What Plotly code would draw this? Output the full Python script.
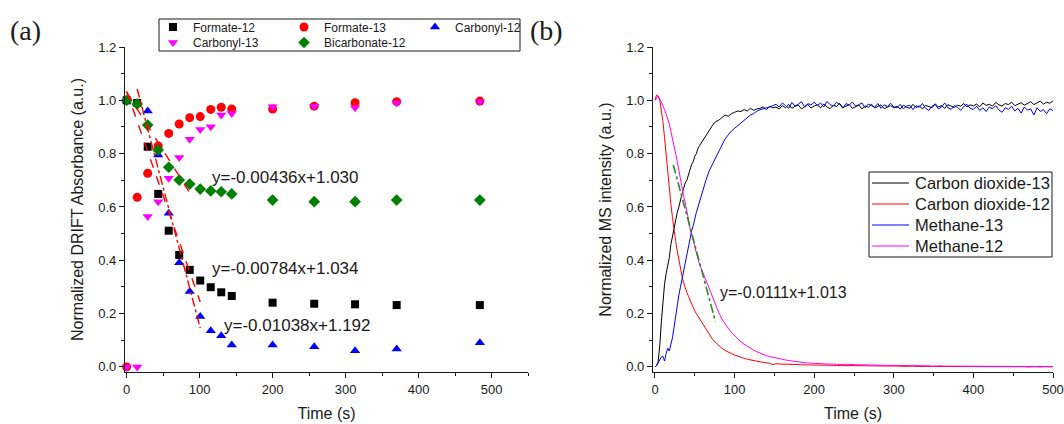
import plotly.graph_objects as go

W, H = 1064, 424


def fx(p):
    return p / W


def fy(p):
    return 1 - p / H


# ---------------- Panel (a): DRIFT data ----------------
t_drift = [0, 14.4, 28.8, 43.2, 57.6, 72, 86.4, 100.8, 115.2, 129.6, 144, 200, 257, 313, 370, 484]
formate12 = [1.0, 0.99, 0.826, 0.649, 0.511, 0.42, 0.364, 0.324, 0.299, 0.28, 0.266, 0.241, 0.237, 0.235, 0.232, 0.232]
formate13 = [0.0, 0.636, 0.726, 0.829, 0.876, 0.911, 0.935, 0.939, 0.966, 0.974, 0.967, 0.967, 0.978, 0.991, 0.995, 0.997]
carbonyl12 = [1.0, 0.99, 0.96, 0.795, 0.576, 0.391, 0.283, 0.189, 0.136, 0.117, 0.082, 0.082, 0.076, 0.061, 0.067, 0.091]
carbonyl13 = [0.0, 0.0, 0.564, 0.62, 0.708, 0.786, 0.854, 0.891, 0.901, 0.945, 0.951, 0.976, 0.978, 0.972, 0.99, 0.995]
bicarbonate12 = [1.0, 0.986, 0.907, 0.814, 0.749, 0.701, 0.686, 0.667, 0.66, 0.657, 0.649, 0.626, 0.62, 0.62, 0.626, 0.626]

# linear fits shown in panel (a): slope, intercept, x-start, x-end
fit_labels_a = ["y=-0.00436x+1.030", "y=-0.00784x+1.034", "y=-0.01038x+1.192"]
fit_slopes_a = [-0.00436, -0.00784, -0.01038]
fit_icepts_a = [1.030, 1.034, 1.192]
fit_x0_a = [0.0, 0.0, 14.4]
fit_x1_a = [86.4, 100.8, 100.8]
fit_dash_a = ["dash", "dash", "dashdot"]

# ---------------- Panel (b): MS data ----------------
t_ms = list(range(0, 61, 2)) + list(range(64, 501, 4))

co2_13 = [
    0.0, 0.005, 0.02, 0.08, 0.17, 0.25, 0.31, 0.35, 0.38, 0.41, 0.46, 0.49, 0.53, 0.55, 0.58, 0.60,
    0.63, 0.65, 0.67, 0.69, 0.70, 0.72, 0.74, 0.76, 0.77, 0.79, 0.80, 0.82, 0.83, 0.84, 0.85,
    0.87, 0.885, 0.905, 0.92, 0.925, 0.935, 0.945, 0.94, 0.95, 0.955, 0.96, 0.958, 0.965, 0.96, 0.97,
    0.962, 0.968, 0.97, 0.975, 0.965, 0.978, 0.972,
    0.975, 0.968, 0.98, 0.972, 0.985, 0.97, 0.978, 0.982, 0.968, 0.976, 0.984, 0.971, 0.979,
    0.983, 0.972, 0.986, 0.975, 0.969, 0.981, 0.977, 0.988, 0.973, 0.979, 0.984, 0.97, 0.976,
    0.982, 0.968, 0.979, 0.974, 0.985, 0.971, 0.977, 0.983, 0.969, 0.975, 0.98, 0.972,
    0.978, 0.967, 0.982, 0.974, 0.97, 0.985, 0.973, 0.979, 0.968, 0.981, 0.976, 0.972, 0.987,
    0.975, 0.98, 0.97, 0.984, 0.977, 0.973, 0.982, 0.978, 0.988, 0.975, 0.983, 0.979,
    0.986, 0.976, 0.99, 0.981, 0.985, 0.978, 0.992, 0.983, 0.979, 0.988, 0.984, 0.993, 0.98,
    0.987, 0.991, 0.982, 0.989, 0.995, 0.984, 0.99, 0.997, 0.986, 0.993, 0.989, 0.998,
]

co2_12 = [
    1.0, 1.02, 1.015, 1.0, 0.96, 0.92, 0.86, 0.79, 0.72, 0.66, 0.61, 0.56, 0.51, 0.47, 0.435, 0.40,
    0.37, 0.34, 0.315, 0.295, 0.28, 0.265, 0.25, 0.235, 0.22, 0.21, 0.20, 0.19, 0.18, 0.17, 0.16,
    0.14, 0.122, 0.105, 0.092, 0.08, 0.07, 0.062, 0.055, 0.05, 0.045, 0.04, 0.036, 0.032, 0.029, 0.026,
    0.023, 0.021, 0.019, 0.017, 0.016, 0.014, 0.008,
    0.012, 0.011, 0.011, 0.010, 0.010, 0.009, 0.009, 0.009, 0.008, 0.008, 0.008, 0.007, 0.007,
    0.007, 0.007, 0.006, 0.006, 0.006, 0.006, 0.005, 0.006, 0.005, 0.005, 0.005, 0.005, 0.004,
    0.005, 0.004, 0.004, 0.004, 0.004, 0.004, 0.003, 0.004, 0.003, 0.003, 0.003, 0.003,
    0.003, 0.003, 0.002, 0.003, 0.002, 0.003, 0.002, 0.002, 0.003, 0.002, 0.002, 0.002, 0.001,
    0.002, 0.002, 0.002, 0.001, 0.002, 0.002, 0.001, 0.002, 0.001, 0.002, 0.001, 0.001,
    0.002, 0.001, 0.001, 0.002, 0.001, 0.001, 0.001, 0.002, 0.001, 0.001, 0.001, 0.001, 0.002,
    0.001, 0.001, 0.001, 0.0, 0.001, 0.001, 0.001, 0.0, 0.001, 0.001, 0.0, 0.001,
]

ch4_13 = [
    0.0, 0.005, 0.015, 0.03, 0.038, 0.04, 0.022, 0.05, 0.07, 0.06, 0.085, 0.11, 0.15, 0.19, 0.24, 0.27,
    0.30, 0.33, 0.37, 0.40, 0.43, 0.45, 0.48, 0.51, 0.53, 0.56, 0.58, 0.60, 0.62, 0.64, 0.665,
    0.70, 0.735, 0.76, 0.785, 0.81, 0.835, 0.855, 0.87, 0.885, 0.895, 0.905, 0.915, 0.925, 0.935, 0.945,
    0.95, 0.96, 0.965, 0.97, 0.972, 0.975, 0.98,
    0.985, 0.975, 0.99, 0.98, 0.97, 0.992, 0.978, 0.986, 0.995, 0.975, 0.988, 0.982, 0.993,
    0.98, 0.99, 0.975, 0.996, 0.984, 0.978, 0.992, 0.986, 0.97, 0.988, 0.982, 0.994, 0.978,
    0.985, 0.99, 0.972, 0.986, 0.98, 0.975, 0.988, 0.97, 0.983, 0.977, 0.989, 0.975,
    0.972, 0.985, 0.968, 0.978, 0.982, 0.965, 0.98, 0.974, 0.988, 0.97, 0.962, 0.978, 0.984,
    0.968, 0.975, 0.99, 0.972, 0.966, 0.98, 0.974, 0.962, 0.977, 0.985, 0.97, 0.966,
    0.978, 0.962, 0.972, 0.958, 0.975, 0.968, 0.98, 0.964, 0.955, 0.972, 0.966, 0.978, 0.96,
    0.97, 0.952, 0.975, 0.963, 0.968, 0.945, 0.972, 0.958, 0.965, 0.95, 0.968, 0.962,
]

ch4_12 = [
    1.0, 1.01, 1.016, 1.005, 0.995, 0.98, 0.965, 0.95, 0.93, 0.91, 0.885, 0.86, 0.83, 0.80, 0.77, 0.735,
    0.70, 0.67, 0.64, 0.615, 0.59, 0.555, 0.52, 0.495, 0.47, 0.45, 0.43, 0.405, 0.385, 0.37, 0.355,
    0.325, 0.29, 0.26, 0.23, 0.205, 0.18, 0.16, 0.145, 0.13, 0.118, 0.105, 0.094, 0.085, 0.077, 0.07,
    0.063, 0.057, 0.051, 0.046, 0.042, 0.039, 0.036,
    0.033, 0.031, 0.028, 0.026, 0.024, 0.022, 0.021, 0.019, 0.018, 0.016, 0.015, 0.014, 0.013,
    0.013, 0.012, 0.012, 0.011, 0.011, 0.010, 0.011, 0.010, 0.009, 0.010, 0.009, 0.008, 0.009,
    0.008, 0.008, 0.007, 0.008, 0.007, 0.007, 0.006, 0.007, 0.006, 0.006, 0.006, 0.005,
    0.005, 0.006, 0.005, 0.005, 0.004, 0.005, 0.004, 0.005, 0.004, 0.004, 0.004, 0.003, 0.004,
    0.003, 0.004, 0.003, 0.003, 0.003, 0.004, 0.003, 0.003, 0.002, 0.003, 0.003, 0.002,
    0.003, 0.002, 0.003, 0.002, 0.002, 0.003, 0.002, 0.002, 0.002, 0.003, 0.002, 0.002, 0.001,
    0.002, 0.002, 0.002, 0.001, 0.002, 0.002, 0.001, 0.002, 0.001, 0.002, 0.001, 0.002,
]

fit_label_b = "y=-0.0111x+1.013"
fit_slope_b = -0.0111
fit_icept_b = 1.013
fit_x0_b = 23.0
fit_x1_b = 76.0

SANS = "Liberation Sans, Arial, sans-serif"
SERIF = "Liberation Serif, Times New Roman, serif"
INK = "#1a1a1a"

fig = go.Figure()

# ---- panel (a) markers ----
marker_series = [
    ("Formate-12", formate12, "square", "#000000", 8, "legend"),
    ("Formate-13", formate13, "circle", "#FF0000", 9, "legend"),
    ("Carbonyl-12", carbonyl12, "triangle-up", "#0000FF", 9, "legend"),
    ("Carbonyl-13", carbonyl13, "triangle-down", "#FF00FF", 9, "legend2"),
    ("Bicarbonate-12", bicarbonate12, "diamond", "#008000", 9, "legend2"),
]
for name, ys, sym, col, sz, lg in marker_series:
    fig.add_trace(go.Scatter(
        x=t_drift, y=ys, mode="markers", name=name,
        marker=dict(symbol=sym, color=col, size=sz, line=dict(width=0)),
        xaxis="x", yaxis="y", legend=lg, cliponaxis=False,
    ))

for slope, icept, x0, x1, dash in zip(fit_slopes_a, fit_icepts_a, fit_x0_a, fit_x1_a, fit_dash_a):
    fig.add_trace(go.Scatter(
        x=[x0, x1], y=[slope * x0 + icept, slope * x1 + icept], mode="lines",
        line=dict(color="#FF0000", width=1.4, dash=dash), showlegend=False,
        xaxis="x", yaxis="y",
    ))

# ---- panel (b) lines ----
line_series = [
    ("Carbon dioxide-13", co2_13, "#000000"),
    ("Carbon dioxide-12", co2_12, "#FF0000"),
    ("Methane-13", ch4_13, "#0000FF"),
    ("Methane-12", ch4_12, "#FF00FF"),
]
for name, ys, col in line_series:
    fig.add_trace(go.Scatter(
        x=t_ms, y=ys, mode="lines", name=name,
        line=dict(color=col, width=1), xaxis="x2", yaxis="y2", showlegend=False,
    ))

fig.add_trace(go.Scatter(
    x=[fit_x0_b, fit_x1_b],
    y=[fit_slope_b * fit_x0_b + fit_icept_b, fit_slope_b * fit_x1_b + fit_icept_b],
    mode="lines", line=dict(color="#2E8B20", width=1.6, dash="dashdot"), showlegend=False,
    xaxis="x2", yaxis="y2",
))

axis_common = dict(
    showline=True, linecolor=INK, linewidth=1.2, showgrid=False, zeroline=False,
    ticks="outside", ticklen=5, tickwidth=1.2, tickcolor=INK, automargin=False,
    tickfont=dict(family=SANS, size=13, color=INK),
    title_font=dict(family=SANS, size=16, color=INK),
)
minor_common = dict(ticks="outside", ticklen=3, tickcolor=INK, tickwidth=1)

fig.update_layout(
    width=W, height=H,
    margin=dict(l=0, r=0, t=0, b=0, autoexpand=False),
    paper_bgcolor="white", plot_bgcolor="white",
    showlegend=True,
    xaxis=dict(
        domain=[fx(125), fx(528)], range=[-2.3, 550], anchor="y",
        tick0=0, dtick=100, minor=dict(dtick=50, **minor_common),
        title=dict(text="Time (s)", standoff=12), **axis_common,
    ),
    yaxis=dict(
        domain=[fy(372), fy(47)], range=[-0.019, 1.2], anchor="x",
        tick0=0, dtick=0.2, tickformat=".1f", minor=dict(dtick=0.1, **minor_common),
        title=dict(text="Normalized DRIFT Absorbance (a.u.)", standoff=10), **axis_common,
    ),
    xaxis2=dict(
        domain=[fx(653), fx(1053)], range=[-2.5, 500], anchor="y2",
        tick0=0, dtick=100, minor=dict(dtick=50, **minor_common),
        title=dict(text="Time (s)", standoff=12), **axis_common,
    ),
    yaxis2=dict(
        domain=[fy(372), fy(47)], range=[-0.019, 1.2], anchor="x2",
        tick0=0, dtick=0.2, tickformat=".1f", minor=dict(dtick=0.1, **minor_common),
        title=dict(text="Normalized MS intensity (a.u.)", standoff=10), **axis_common,
    ),
    legend=dict(
        orientation="h", x=fx(153), y=fy(27), xanchor="left", yanchor="middle",
        entrywidth=86, entrywidthmode="pixels", bgcolor="rgba(0,0,0,0)", borderwidth=0,
        font=dict(family=SANS, size=12, color=INK), itemclick=False,
    ),
    legend2=dict(
        orientation="h", x=fx(153), y=fy(42.5), xanchor="left", yanchor="middle",
        entrywidth=86, entrywidthmode="pixels", bgcolor="rgba(0,0,0,0)", borderwidth=0,
        font=dict(family=SANS, size=12, color=INK), itemclick=False,
    ),
)

# border box around the two-row legend of panel (a)
fig.add_shape(type="rect", xref="paper", yref="paper",
              x0=fx(159), x1=fx(520), y0=fy(51), y1=fy(19),
              line=dict(color=INK, width=1), fillcolor="rgba(0,0,0,0)")

# legend of panel (b): frame, line samples and labels
fig.add_shape(type="rect", xref="paper", yref="paper",
              x0=fx(869), x1=fx(1052), y0=fy(257), y1=fy(172),
              line=dict(color=INK, width=1), fillcolor="white")
legend_rows_b = [183, 204, 225, 246]
for (name, _, col), ry in zip(line_series, legend_rows_b):
    fig.add_shape(type="line", xref="paper", yref="paper",
                  x0=fx(872), x1=fx(909), y0=fy(ry), y1=fy(ry),
                  line=dict(color=col, width=1))
    fig.add_annotation(text=name, xref="paper", yref="paper", x=fx(913), y=fy(ry),
                       xanchor="left", yanchor="middle", showarrow=False,
                       font=dict(family=SANS, size=16.5, color=INK))

# equation labels
eq_pos_a = [(210, 177), (210, 268), (222, 325)]
for label, (px, py) in zip(fit_labels_a, eq_pos_a):
    fig.add_annotation(text=label, xref="paper", yref="paper", x=fx(px), y=fy(py),
                       xanchor="left", yanchor="middle", showarrow=False,
                       font=dict(family=SANS, size=17, color=INK))
fig.add_annotation(text=fit_label_b, xref="paper", yref="paper", x=fx(718), y=fy(292),
                   xanchor="left", yanchor="middle", showarrow=False,
                   font=dict(family=SANS, size=16, color=INK))

# panel letters
fig.add_annotation(text="(a)", xref="paper", yref="paper", x=fx(8), y=fy(30),
                   xanchor="left", yanchor="middle", showarrow=False,
                   font=dict(family=SERIF, size=28, color=INK))
fig.add_annotation(text="(b)", xref="paper", yref="paper", x=fx(528), y=fy(30),
                   xanchor="left", yanchor="middle", showarrow=False,
                   font=dict(family=SERIF, size=28, color=INK))

fig.write_html("out.html")
